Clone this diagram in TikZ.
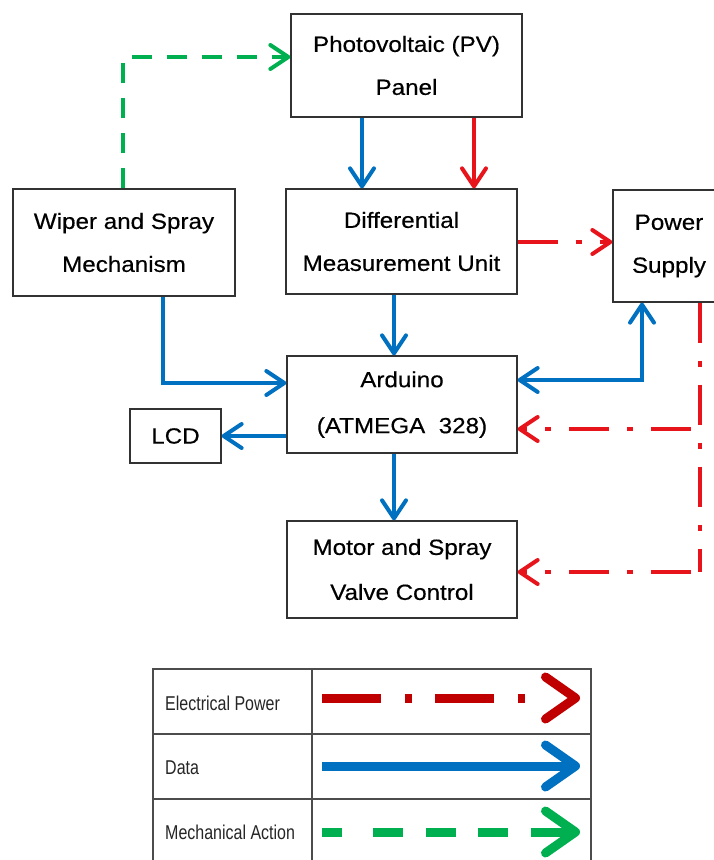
\documentclass[tikz,border=0pt]{standalone}
\usepackage{fontspec}
\setmainfont[FakeStretch=1.1,FakeBold=0.4]{Liberation Sans}
\newfontfamily\legfont[FakeStretch=0.8]{Liberation Sans}
\usetikzlibrary{arrows.meta}
\definecolor{dblue}{RGB}{0,112,192}
\definecolor{pred}{RGB}{232,20,27}
\definecolor{lred}{RGB}{192,0,0}
\definecolor{mgreen}{RGB}{0,176,80}
\definecolor{bord}{RGB}{50,50,50}
\tikzset{
  box/.style={draw=bord, line width=1.3pt, align=center, inner sep=0pt,
    font=\fontsize{22}{43}\selectfont},
  data/.style={draw=dblue, line width=4pt, -{Straight Barb[length=18pt,width=24pt,line cap=round,line join=round]}},
  datab/.style={draw=dblue, line width=4pt, {Straight Barb[length=18pt,width=24pt,line cap=round,line join=round]}-{Straight Barb[length=18pt,width=24pt,line cap=round,line join=round]}},
  powerline/.style={draw=pred, line width=4pt, dash pattern=on 40pt off 18pt on 6pt off 18pt},
  power/.style={powerline,
    -{Straight Barb[length=18pt,width=24pt,line cap=round,line join=round]}},
  powerbranch/.style={power, dash phase=73pt},
  powersolid/.style={draw=pred, line width=4pt, -{Straight Barb[length=18pt,width=24pt,line cap=round,line join=round]}},
  mech/.style={draw=mgreen, line width=4pt, dash pattern=on 20pt off 15pt,
    -{Straight Barb[length=18pt,width=24pt,line cap=round,line join=round]}},
  legtext/.style={anchor=west, inner sep=0pt, font=\legfont\fontsize{20}{24}\selectfont, text=black!85},
  legpower/.style={draw=lred, line width=9pt,
    dash pattern=on 59pt off 24pt on 7pt off 23pt on 59pt off 24pt on 7pt off 60pt,
    -{Straight Barb[length=30pt,width=42pt,line cap=round,line join=round]}},
  legdata/.style={draw=dblue, line width=9pt,
    -{Straight Barb[length=30pt,width=42pt,line cap=round,line join=round]}},
  legmech/.style={draw=mgreen, line width=9pt,
    dash pattern=on 20pt off 31pt on 30pt off 23pt on 30pt off 22pt on 30pt off 23pt on 60pt,
    -{Straight Barb[length=30pt,width=42pt,line cap=round,line join=round]}},
  tab/.style={draw=black!70, line width=1.5pt}
}
\begin{document}
\begin{tikzpicture}[x=1pt,y=-1pt]
\useasboundingbox[fill=white] (0,0) rectangle (713,860);
% boxes
\node[box, minimum width=231pt, minimum height=103pt] (pv) at (406.5,65.5) {Photovoltaic (PV)\\Panel};
\node[box, minimum width=222pt, minimum height=107pt] (wiper) at (124,242.5) {Wiper and Spray\\Mechanism};
\node[box, minimum width=231pt, minimum height=105pt] (diff) at (401.5,241.5) {Differential\\Measurement Unit};
\node[box, minimum width=112pt, minimum height=112pt, text width=112pt] (ps) at (669,246) {Power\\Supply};
\node[box, minimum width=230pt, minimum height=97pt] (ard) at (402,404.5) {Arduino\\[3pt](ATMEGA~~328)};
\node[box, minimum width=230pt, minimum height=97pt] (mot) at (402,569.5) {Motor and Spray\\[2pt]Valve Control};
\node[box, minimum width=91pt, minimum height=54pt] (lcd) at (175.5,436) {LCD};
% helper coordinates
\coordinate (xa) at (362,0);
\coordinate (xb) at (474,0);
\coordinate (xc) at (394,0);
\coordinate (xw) at (163,0);
\coordinate (xg) at (123,0);
\coordinate (xp) at (642,0);
\coordinate (xr) at (700,0);
\coordinate (yg) at (0,57);
\coordinate (yw) at (0,383);
\coordinate (yl) at (0,436);
\coordinate (yp) at (0,380);
\coordinate (yr) at (0,429);
\coordinate (ym) at (0,572);
\coordinate (yd) at (0,242);
% connectors
\draw[mech] (wiper.north -| xg) |- (pv.west |- yg);
\draw[data] (pv.south -| xa) -- (diff.north -| xa);
\draw[powersolid] (pv.south -| xb) -- (diff.north -| xb);
\draw[power] (diff.east |- yd) -- (ps.west |- yd);
\draw[data] (diff.south -| xc) -- (ard.north -| xc);
\draw[data] (wiper.south -| xw) |- (ard.west |- yw);
\draw[data] (ard.west |- yl) -- (lcd.east |- yl);
\draw[datab] (ard.east |- yp) -| (ps.south -| xp);
\draw[data] (ard.south -| xc) -- (mot.north -| xc);
\draw[powerline] (ps.south -| xr) -- (xr |- ym);
\draw[powerbranch] (xr |- yr) -- (ard.east |- yr);
\draw[powerbranch] (xr |- ym) -- (mot.east |- ym);
% legend table
\draw[tab] (153,669) rectangle (591,875);
\draw[tab] (312,669) -- (312,875);
\draw[tab] (153,734) -- (591,734);
\draw[tab] (153,799) -- (591,799);
\node[legtext] (l1) at (165,703) {Electrical Power};
\node[legtext] (l2) at (165,768) {Data};
\node[legtext] (l3) at (165,832) {Mechanical Action};
\coordinate (a1s) at (322,698);
\coordinate (a1e) at (580,698);
\coordinate (a2s) at (322,766);
\coordinate (a2e) at (580,766);
\coordinate (a3s) at (322,832);
\coordinate (a3e) at (580,832);
\draw[legpower] (a1s) -- (a1e);
\draw[legdata] (a2s) -- (a2e);
\draw[legmech] (a3s) -- (a3e);
\end{tikzpicture}
\end{document}
